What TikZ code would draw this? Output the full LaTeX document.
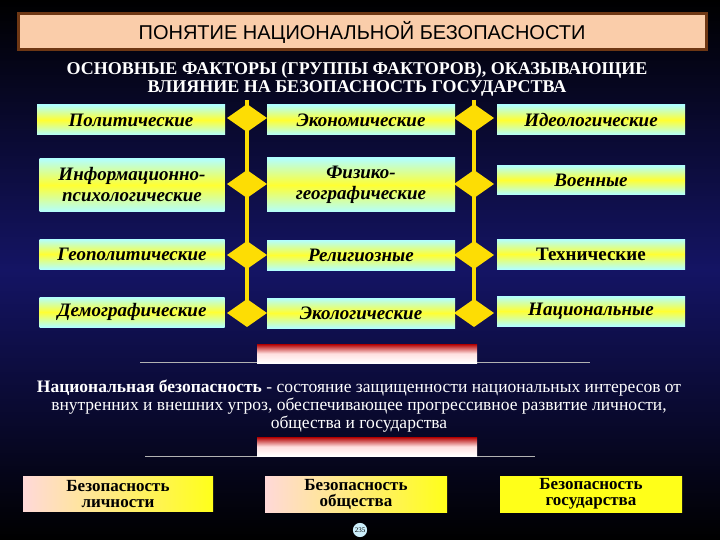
\documentclass[tikz,border=0pt]{standalone}
\usepackage{fontspec}
\setmainfont{Liberation Serif}
\newfontfamily\arialf{Liberation Sans}
\begin{document}
\begin{tikzpicture}[x=1pt,y=-1pt,
  fbox/.style={shading=axis,top color=cyan!30,bottom color=cyan!30,middle color=yellow!80,inner sep=0pt,font=\itshape\bfseries\fontsize{19}{21}\selectfont,align=center},
  bbox/.style={left color=pink!60,right color=yellow!90,inner sep=0pt,font=\bfseries\fontsize{17}{16}\selectfont,align=center},
  dia/.style={fill=yellow!80!orange,draw=none},
  vline/.style={yellow!80!orange,line width=4pt},
  pbar/.style={top color=red!70!black,bottom color=white,middle color=pink!50,draw=none},
  hl/.style={gray!60,line width=1pt}]
\shade[top color=black,bottom color=black,middle color={rgb,255:red,20;green,20;blue,100}] (0,0) rectangle (720,540);
\useasboundingbox (0,0) rectangle (720,540);
\node[draw={rgb,255:red,110;green,55;blue,20},line width=3pt,fill={rgb,255:red,250;green,205;blue,170},minimum width=688,minimum height=36,font=\arialf\fontsize{20}{20}\selectfont] (title) at (362,32) {ПОНЯТИЕ НАЦИОНАЛЬНОЙ БЕЗОПАСНОСТИ};
\node[text=white,font=\bfseries\fontsize{18}{18}\selectfont,align=center] (sub) at (357,79) {ОСНОВНЫЕ ФАКТОРЫ (ГРУППЫ ФАКТОРОВ), ОКАЗЫВАЮЩИЕ\\ВЛИЯНИЕ НА БЕЗОПАСНОСТЬ ГОСУДАРСТВА};
\coordinate (l1a) at (247,100); \coordinate (l1b) at (247,325);
\coordinate (l2a) at (474,100); \coordinate (l2b) at (474,325);
\draw[vline] (l1a) -- (l1b); \draw[vline] (l2a) -- (l2b);
\foreach \y in {118,184,255,313}{
  \fill[dia] (227,\y) -- (247,\y-14) -- (267,\y) -- (247,\y+14) -- cycle;
  \fill[dia] (454,\y) -- (474,\y-14) -- (494,\y) -- (474,\y+14) -- cycle;}
\node[fbox,minimum width=188,minimum height=30] (a1) at (131,120) {Политические};
\node[fbox,minimum width=188,minimum height=30] (b1) at (361,120) {Экономические};
\node[fbox,minimum width=188,minimum height=30] (c1) at (591,120) {Идеологические};
\node[fbox,minimum width=185,minimum height=53] (a2) at (132,185) {Информационно-\\психологические};
\node[fbox,minimum width=188,minimum height=54] (b2) at (361,185) {Физико-\\географические};
\node[fbox,minimum width=188,minimum height=29] (c2) at (591,180) {Военные};
\node[fbox,minimum width=185,minimum height=30] (a3) at (132,254) {Геополитические};
\node[fbox,minimum width=188,minimum height=30] (b3) at (361,255) {Религиозные};
\node[fbox,minimum width=188,minimum height=30,font=\bfseries\fontsize{19}{19}\selectfont] (c3) at (591,254) {Технические};
\node[fbox,minimum width=185,minimum height=30] (a4) at (132,312) {Демографические};
\node[fbox,minimum width=188,minimum height=30] (b4) at (361,313) {Экологические};
\node[fbox,minimum width=188,minimum height=30] (c4) at (591,311) {Национальные};
\draw[hl] (140,362) -- (590,362);
\shade[pbar] (257,344) rectangle (477,363);
\node[text=white,font=\fontsize{17.5}{18}\selectfont,align=center] (def) at (359,406) {\textbf{Национальная безопасность} - состояние защищенности национальных интересов от\\внутренних и внешних угроз, обеспечивающее прогрессивное развитие личности,\\общества и государства};
\draw[hl] (145,456) -- (535,456);
\shade[pbar] (257,437) rectangle (477,456);
\node[bbox,minimum width=190,minimum height=35] (p) at (118,494) {Безопасность\\личности};
\node[bbox,minimum width=182,minimum height=36] (s) at (356,494) {Безопасность\\общества};
\node[bbox,minimum width=182,minimum height=36,left color=yellow!90] (g) at (591,494) {Безопасность\\государства};
\node[circle,fill=cyan!20,inner sep=1pt,font=\fontsize{7}{7}\selectfont] (n) at (360,530) {235};
\end{tikzpicture}
\end{document}
